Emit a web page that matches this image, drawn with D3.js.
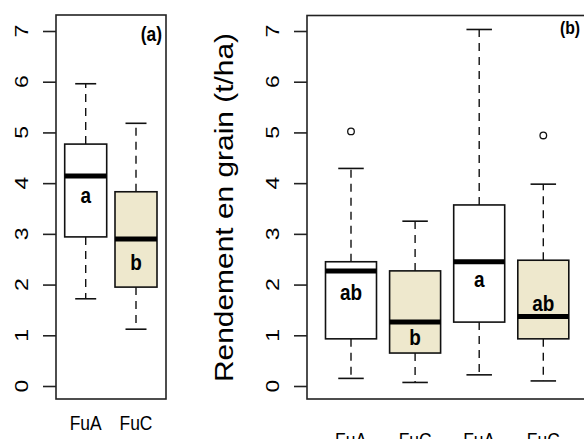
<!DOCTYPE html>
<html>
<head>
<meta charset="utf-8">
<script src="https://cdn.jsdelivr.net/npm/d3@7"></script>
<style>
  body { margin: 0; background: #ffffff; }
  svg { display: block; }
  text { font-family: "Liberation Sans", Arial, sans-serif; fill: #000; }
</style>
</head>
<body>
<svg id="chart" width="584" height="439"></svg>
<script>
// Données
var groupsA = ["FuA", "FuC"];
var lowA = [1.72, 1.12];
var q1A = [2.94, 1.95];
var medA = [4.14, 2.90];
var q3A = [4.77, 3.83];
var highA = [5.96, 5.18];
var outA = [[], []];
var lettersA = ["a", "b"];
var letterPosA = [3.61, 2.29];

var groupsB = ["FuA", "FuC", "FuA", "FuC"];
var lowB = [0.15, 0.07, 0.22, 0.10];
var q1B = [0.93, 0.65, 1.26, 0.93];
var medB = [2.27, 1.26, 2.45, 1.37];
var q3B = [2.45, 2.27, 3.57, 2.48];
var highB = [4.29, 3.25, 7.03, 3.98];
var outB = [[5.02], [], [], [4.94]];
var lettersB = ["ab", "b", "a", "ab"];
var letterPosB = [1.69, 0.80, 1.95, 1.47];

var fills = ["#ffffff", "#eee8cd"];
var yTicks = [0, 1, 2, 3, 4, 5, 6, 7];

var svg = d3.select("#chart");
var sx = 0.83; // l'image d'origine est comprimée horizontalement

var y = d3.scaleLinear().domain([0, 7]).range([386, 31]);

function panel(opt) {
    var g = svg.append("g");
    var x = d3.scaleLinear().domain([1, opt.groups.length]).range(opt.xr);
    var hw = opt.boxW / 2;

    // cadre
    g.append("rect")
        .attr("x", opt.frame[0]).attr("y", opt.frame[1])
        .attr("width", opt.frame[2] - opt.frame[0])
        .attr("height", opt.frame[3] - opt.frame[1])
        .attr("fill", "none").attr("stroke", "#222").attr("stroke-width", 1.6);

    // axe y
    var axis = g.append("g").attr("transform", "translate(" + opt.frame[0] + ",0)")
        .call(d3.axisLeft(y).tickValues(yTicks).tickSize(13).tickFormat(""));
    axis.select(".domain").remove();
    axis.selectAll("line").attr("stroke", "#222").attr("stroke-width", 1.6);

    yTicks.forEach(function(t) {
        g.append("text")
            .attr("transform", "translate(" + opt.tickX + "," + y(t) + ") rotate(-90) scale(1," + sx + ")")
            .attr("text-anchor", "middle")
            .style("font-size", "23px")
            .text(t);
    });

    opt.groups.forEach(function(name, i) {
        var cx = x(i + 1);
        var dash = "8,6";
        // moustaches
        g.append("line").attr("x1", cx).attr("x2", cx)
            .attr("y1", y(opt.q3[i])).attr("y2", y(opt.high[i]))
            .attr("stroke", "#111").attr("stroke-width", 1.4).attr("stroke-dasharray", dash);
        g.append("line").attr("x1", cx).attr("x2", cx)
            .attr("y1", y(opt.q1[i])).attr("y2", y(opt.low[i]))
            .attr("stroke", "#111").attr("stroke-width", 1.4).attr("stroke-dasharray", dash);
        [opt.high[i], opt.low[i]].forEach(function(v) {
            g.append("line").attr("x1", cx - hw / 2).attr("x2", cx + hw / 2)
                .attr("y1", y(v)).attr("y2", y(v))
                .attr("stroke", "#111").attr("stroke-width", 1.6);
        });
        // boîte
        g.append("rect")
            .attr("x", cx - hw).attr("width", opt.boxW)
            .attr("y", y(opt.q3[i])).attr("height", y(opt.q1[i]) - y(opt.q3[i]))
            .attr("fill", fills[i % 2]).attr("stroke", "#111").attr("stroke-width", 1.6);
        // médiane
        g.append("line").attr("x1", cx - hw).attr("x2", cx + hw)
            .attr("y1", y(opt.med[i])).attr("y2", y(opt.med[i]))
            .attr("stroke", "#000").attr("stroke-width", 5);
        // valeurs extrêmes
        opt.out[i].forEach(function(v) {
            g.append("circle").attr("cx", cx).attr("cy", y(v)).attr("r", 3.3)
                .attr("fill", "none").attr("stroke", "#111").attr("stroke-width", 1.3);
        });
        // lettres
        g.append("text")
            .attr("transform", "translate(" + cx + "," + y(opt.letterPos[i]) + ") scale(0.86,1)")
            .attr("text-anchor", "middle")
            .style("font-size", "22px").style("font-weight", "bold")
            .text(opt.letters[i]);
        // étiquettes x
        g.append("text")
            .attr("transform", "translate(" + cx + "," + opt.labelY + ") scale(" + sx + ",1)")
            .attr("text-anchor", "middle")
            .style("font-size", "21px")
            .text(name);
    });

    // titre du panneau
    g.append("text")
        .attr("transform", "translate(" + opt.tag[0] + "," + opt.tag[1] + ") scale(" + sx + ",1)")
        .attr("text-anchor", "end")
        .style("font-size", opt.tag[2] + "px").style("font-weight", "bold")
        .text(opt.tag[3]);
}

panel({
    groups: groupsA, low: lowA, q1: q1A, med: medA, q3: q3A, high: highA, out: outA,
    letters: lettersA, letterPos: letterPosA,
    frame: [56, 15, 166, 399], xr: [85.7, 136], boxW: 42,
    tickX: 28, labelY: 430, tag: [162, 41, 21, "(a)"]
});

panel({
    groups: groupsB, low: lowB, q1: q1B, med: medB, q3: q3B, high: highB, out: outB,
    letters: lettersB, letterPos: letterPosB,
    frame: [307, 15.5, 600, 399], xr: [351, 543.3], boxW: 51,
    tickX: 279, labelY: 447, tag: [580, 34, 19, "(b)"]
});

// titre de l'axe y
svg.append("text")
    .attr("transform", "translate(233,207.5) rotate(-90) scale(1,0.84)")
    .attr("text-anchor", "middle")
    .style("font-size", "29.9px")
    .text("Rendement en grain (t/ha)");
</script>
</body>
</html>
